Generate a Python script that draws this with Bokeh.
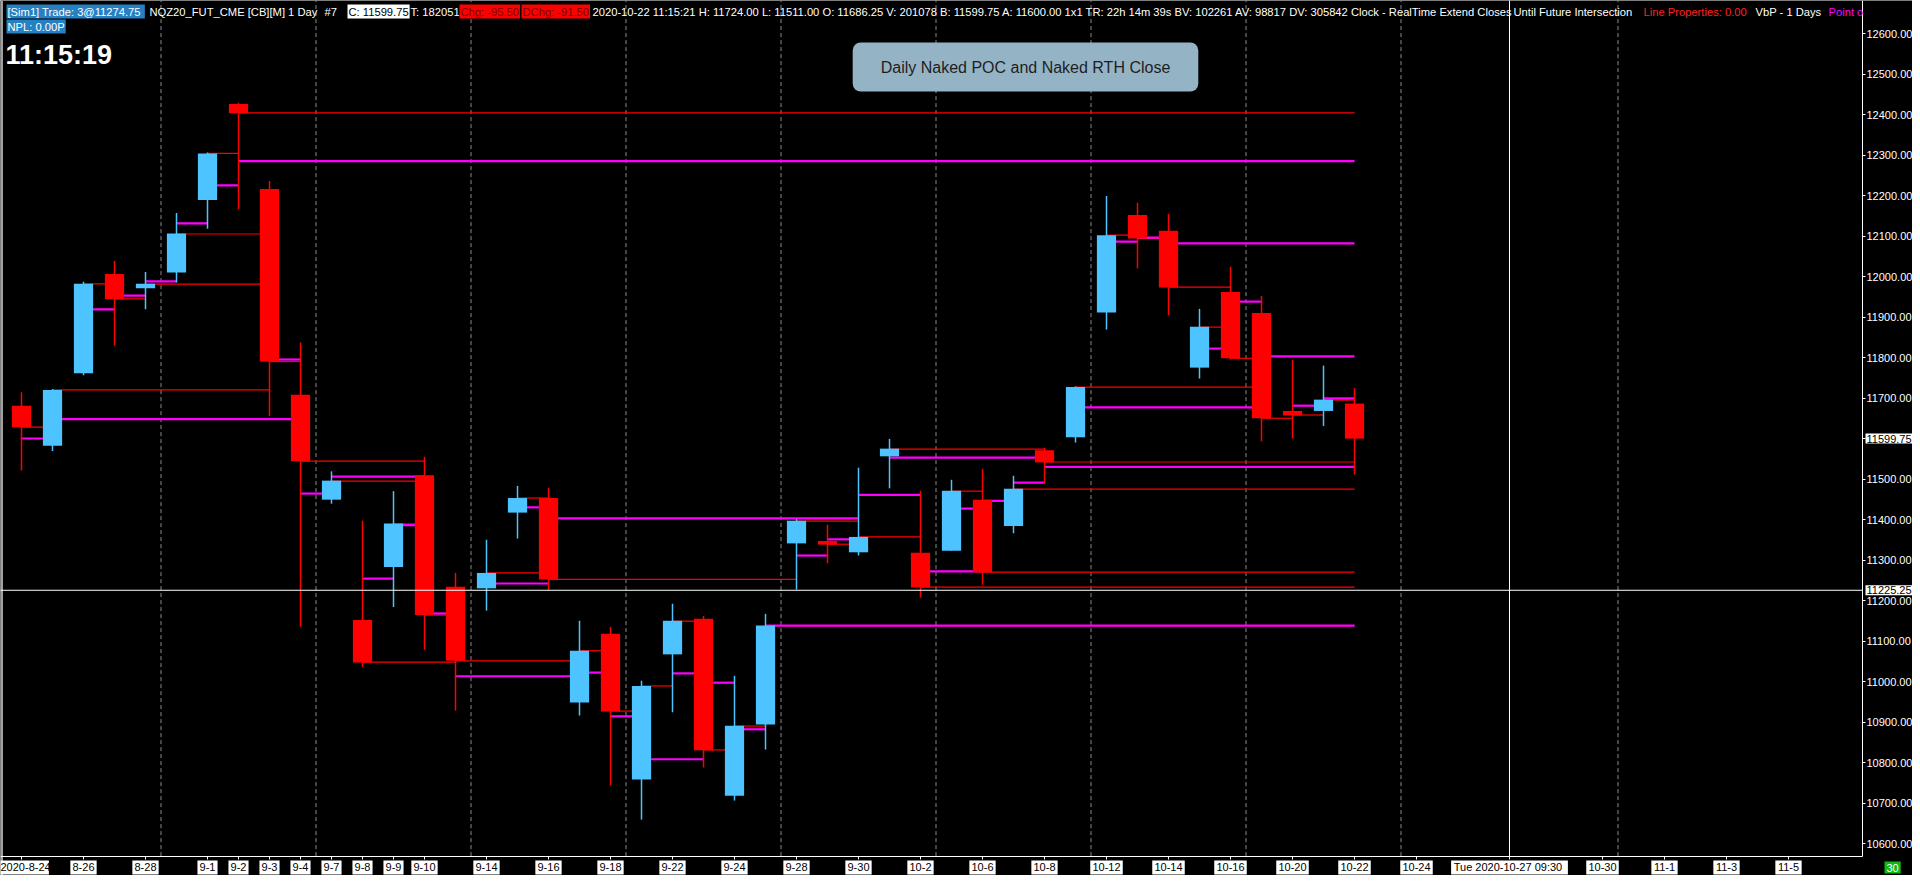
import pandas as pd
from bokeh.embed import file_html
from bokeh.models import (ColumnDataSource, FixedTicker, Label, LinearAxis,
                          PrintfTickFormatter, Range1d, Span)
from bokeh.plotting import figure
from bokeh.resources import INLINE

# daily bars of NQZ20
dates = [
    "2020-08-24", "2020-08-25", "2020-08-26", "2020-08-27", "2020-08-28", "2020-08-31",
    "2020-09-01", "2020-09-02", "2020-09-03", "2020-09-04", "2020-09-07", "2020-09-08",
    "2020-09-09", "2020-09-10", "2020-09-11", "2020-09-14", "2020-09-15", "2020-09-16",
    "2020-09-17", "2020-09-18", "2020-09-21", "2020-09-22", "2020-09-23", "2020-09-24",
    "2020-09-25", "2020-09-28", "2020-09-29", "2020-09-30", "2020-10-01", "2020-10-02",
    "2020-10-05", "2020-10-06", "2020-10-07", "2020-10-08", "2020-10-09", "2020-10-12",
    "2020-10-13", "2020-10-14", "2020-10-15", "2020-10-16", "2020-10-19", "2020-10-20",
    "2020-10-21", "2020-10-22",
]
opens = [11681, 11582, 11761, 12006, 11971, 12010, 12189, 12426, 12216, 11708, 11449, 11152,
         11283, 11509, 11234, 11230, 11417, 11453, 10948, 11118, 10758, 11067, 11155, 10718,
         10894, 11341, 11347, 11319, 11556, 11318, 11323, 11449, 11384, 11571, 11603, 11911,
         12152, 12113, 11775, 11962, 11910, 11668, 11668, 11686.25]
highs = [11714, 11722, 11987, 12038, 12011, 12157, 12306, 12429, 12236, 11837, 11519, 11397,
         11470, 11555, 11268, 11350, 11483, 11478, 11150, 11135, 11002, 11192, 11162, 11014,
         11167, 11401, 11387, 11528, 11599, 11471, 11498, 11525, 11508, 11577, 11729, 12199,
         12182, 12155, 11920, 12024, 11952, 11794, 11780, 11724]
lows = [11521, 11569, 11756, 11829, 11919, 11985, 12118, 12166, 11655, 11135, 11439, 11036,
        11184, 11078, 10928, 11175, 11353, 11226, 10916, 10743, 10659, 10924, 10788, 10706,
        10832, 11227, 11292, 11311, 11477, 11207, 11323, 11239, 11366, 11488, 11590, 11869,
        12020, 11904, 11748, 11795, 11593, 11600, 11631, 11511]
closes = [11628, 11720, 11982, 11944, 11982, 12106, 12304, 12403, 11790, 11544, 11496, 11047,
          11390, 11164, 11051, 11268, 11453, 11252, 11076, 10926, 10989, 11150, 10830, 10891,
          11138, 11397, 11338, 11357, 11575, 11232, 11471, 11269, 11476, 11541, 11727, 12102,
          12094, 11973, 11876, 11798, 11650, 11657, 11696, 11599.75]
pocs = [11600, 11648, 11919, 11953, 11988, 12131, 12225, 12285, 11795, 11464, 11506, 11254,
        11386, 11168, 11013, 11242, 11430, 11403, 11022, 10914, 10808, 11020, 10997, 10882,
        11138, 11311, 11351, 11461, 11553, 11272, 11427, 11446, 11491, 11530, 11677, 12086,
        12096, 12082, 11822, 11938, 11803, 11681, 11699, None]
rth_closes = [11628, 11720, 11982, 11945, 11981, 12105, 12304, 12404, 11790, 11544, 11495, 11048,
              11389, 11164, 11051, 11268, 11453, 11252, 11076, 10927, 10989, 11149, 10831, 10890,
              11138, 11396, 11339, 11357, 11574, 11233, 11470, 11270, 11475, 11542, 11727, 12102,
              12094, 11974, 11875, 11798, 11650, 11658, 11695, None]

tick_dates = ["2020-08-24", "2020-08-26", "2020-08-28", "2020-09-01", "2020-09-02", "2020-09-03",
              "2020-09-04", "2020-09-07", "2020-09-08", "2020-09-09", "2020-09-10", "2020-09-14",
              "2020-09-16", "2020-09-18", "2020-09-22", "2020-09-24", "2020-09-28", "2020-09-30",
              "2020-10-02", "2020-10-06", "2020-10-08", "2020-10-12", "2020-10-14", "2020-10-16",
              "2020-10-20", "2020-10-22", "2020-10-24", "2020-10-30", "2020-11-01", "2020-11-03",
              "2020-11-05"]
price_ticks = list(range(10600, 12700, 100))

cursor_date = "2020-10-27"
cursor_text = "Tue 2020-10-27  09:30"
cursor_price = 11225.25
last_price = 11599.75

UP, DOWN = "#4dc3ff", "#ff0000"
POC_COLOR, CLOSE_COLOR = "#ff00ff", "#ff0000"
FONT = "Liberation Sans"

# bar axis: trading days, then calendar days into the future
day_axis = list(pd.to_datetime(dates)) + list(pd.date_range("2020-10-23", "2020-11-07"))
pos = {d: i for i, d in enumerate(day_axis)}
n = len(dates)


def line_end(i, level):
    # a naked level runs right until a later bar trades through it
    for j in range(i + 1, n):
        if lows[j] <= level <= highs[j]:
            return j
    return n - 1


def seg_source(levels):
    d = dict(x0=[], x1=[], y=[])
    for i, lv in enumerate(levels):
        if lv is None:
            continue
        d["x0"].append(i)
        d["x1"].append(line_end(i, lv))
        d["y"].append(lv)
    return ColumnDataSource(d)


# screen pixels -> data, used for the chart window layout and overlay texts
def ix(px):
    return (px - 21) / 31


def pr(py):
    return 12600 - (py - 33) / 0.405


def text_w(t):
    return sum(3.7 if c == "-" else 3.1 if c in " :." else 6.2 for c in t) + 4


FW, FH = 1912, 875
X_END, Y_AXIS = ix(1862), pr(855.6)   # where the price and time axes sit
Y_TOP = pr(0)

p = figure(frame_width=FW, frame_height=FH, output_backend="svg", toolbar_location=None,
           x_range=Range1d(ix(0), ix(FW)), y_range=Range1d(pr(FH), Y_TOP),
           x_axis_location=None, y_axis_location=None,
           background_fill_color="black", border_fill_color="black",
           min_border=0, outline_line_color=None)
p.grid.visible = False

# window border on the left
p.add_layout(Span(location=ix(1.5), dimension="height", line_color="#a0a0a0",
                  line_width=2, level="underlay"))

# weekly separators
seps = [i + 0.5 for i, d in enumerate(day_axis)
        if d.weekday() == 4 and d <= pd.Timestamp(tick_dates[-1])]
p.segment(x0=seps, y0=Y_AXIS, x1=seps, y1=Y_TOP, line_color="#8a8a8a",
          line_dash="4 3", line_width=1, level="underlay")

p.segment(x0="x0", y0="y", x1="x1", y1="y", source=seg_source(rth_closes),
          line_color=CLOSE_COLOR, line_width=1.2)
p.segment(x0="x0", y0="y", x1="x1", y1="y", source=seg_source(pocs),
          line_color=POC_COLOR, line_width=2.2)

colors = [UP if c >= o else DOWN for o, c in zip(opens, closes)]
bars = ColumnDataSource(dict(
    x=list(range(n)), high=highs, low=lows,
    top=[max(o, c) for o, c in zip(opens, closes)],
    bottom=[min(o, c) for o, c in zip(opens, closes)],
    color=colors,
))
p.segment(x0="x", y0="low", x1="x", y1="high", source=bars, line_color="color", line_width=1.5)
p.vbar(x="x", width=0.62, top="top", bottom="bottom", source=bars,
       fill_color="color", line_color=None)

# crosshair
cx = pos[pd.Timestamp(cursor_date)]
p.segment(x0=[ix(0), cx], y0=[cursor_price, Y_AXIS], x1=[X_END, cx], y1=[cursor_price, Y_TOP],
          line_color="white", line_width=1, level="overlay")

# price axis on the right
ya = LinearAxis(fixed_location=X_END, bounds=(Y_AXIS, Y_TOP))
ya.ticker = FixedTicker(ticks=price_ticks)
ya.formatter = PrintfTickFormatter(format="%.2f")
ya.axis_line_color = "white"
ya.major_tick_line_color = "white"
ya.minor_tick_line_color = None
ya.major_tick_in = 0
ya.major_tick_out = 3
ya.major_label_standoff = 1
ya.major_label_text_color = "white"
ya.major_label_text_font = FONT
ya.major_label_text_font_size = "11px"
p.add_layout(ya, "right")

# time axis at the bottom, labels on white chips
tick_pos, tick_lbl = [], {}
for k, t in enumerate(tick_dates):
    d = pd.Timestamp(t)
    tick_pos.append(pos[d])
    tick_lbl[pos[d]] = f"{d.year}-{d.month}-{d.day}" if k == 0 else f"{d.month}-{d.day}"
tick_pos.append(cx)
tick_lbl[cx] = cursor_text

p.rect(x=tick_pos, y=pr(867), width=[text_w(tick_lbl[t]) for t in tick_pos], height=14,
       width_units="screen", height_units="screen", fill_color="white", line_color=None)

xa = LinearAxis(fixed_location=Y_AXIS, bounds=(ix(0), X_END))
xa.ticker = FixedTicker(ticks=tick_pos)
xa.major_label_overrides = tick_lbl
xa.axis_line_color = "white"
xa.major_tick_line_color = "white"
xa.minor_tick_line_color = None
xa.major_tick_in = 0
xa.major_tick_out = 3
xa.major_label_standoff = 2
xa.major_label_text_color = "black"
xa.major_label_text_font = FONT
xa.major_label_text_font_size = "11px"
p.add_layout(xa, "below")

# header strip
header = [
    ("[Sim1]  Trade: 3@11274.75", 6, "white", "#2680c2"),
    ("NQZ20_FUT_CME [CB][M]  1 Day", 148, "white", None),
    ("#7", 323, "white", None),
    ("C: 11599.75", 347, "black", "white"),
    ("T: 182051", 409, "white", None),
    ("Chg: -95.50", 459, "#7a0000", "#ff0000"),
    ("DChg: -91.50", 521, "#7a0000", "#ff0000"),
    ("2020-10-22 11:15:21 H: 11724.00 L: 11511.00 O: 11686.25 V: 201078 B: 11599.75 "
     "A: 11600.00 1x1 TR: 22h 14m 39s BV: 102261 AV: 98817 DV: 305842 Clock - RealTime  "
     "Extend Closes", 591, "white", None),
    ("Until Future Intersection", 1512, "white", None),
    ("Line Properties: 0.00", 1642, "#ff2020", None),
    ("VbP - 1 Days", 1754, "white", None),
    ("Point o", 1827, "#ff00ff", None),
]
for text, x, fg, bg in header:
    p.add_layout(Label(x=ix(x), y=pr(4), text=text, text_color=fg, text_font=FONT,
                       text_font_size="11.2px", text_baseline="top",
                       background_fill_color=bg, padding=1))
p.add_layout(Label(x=ix(6), y=pr(19), text="NPL: 0.00P", text_color="white", text_font=FONT,
                   text_font_size="11.2px", text_baseline="top",
                   background_fill_color="#2680c2", padding=1))

p.add_layout(Label(x=ix(5), y=pr(39), text="11:15:19", text_color="white", text_font=FONT,
                   text_font_size="27px", text_font_style="bold", text_baseline="top"))

p.add_layout(Label(x=ix(1025), y=pr(66.5), text="Daily Naked POC and Naked RTH Close",
                   text_color="#1e1e1e", text_font=FONT, text_font_size="16px",
                   text_align="center", text_baseline="middle",
                   background_fill_color="#94b4c6", padding=(28, 16), border_radius=8))

for price in (last_price, cursor_price):
    p.add_layout(Label(x=ix(1865), y=price, text=f"{price:.2f}", text_color="black",
                       text_font=FONT, text_font_size="11px", text_baseline="middle",
                       background_fill_color="white", padding=1))

p.add_layout(Label(x=ix(1884), y=pr(867), text="30", text_color="white", text_font=FONT,
                   text_font_size="11px", text_baseline="middle",
                   background_fill_color="#12b812", padding=2))

open("out.html", "w").write(file_html(p, INLINE))
